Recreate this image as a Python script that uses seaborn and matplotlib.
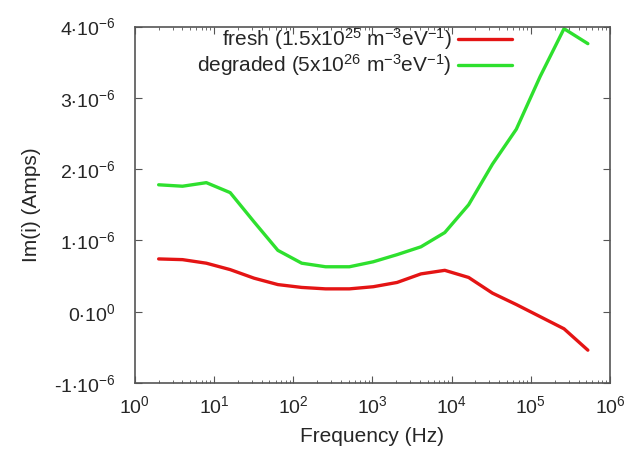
import numpy as np
import pandas as pd
import matplotlib
matplotlib.use("Agg")
import matplotlib.pyplot as plt
import seaborn as sns
from matplotlib.ticker import LogLocator, FixedLocator, FixedFormatter, NullFormatter

# data (current in units of 1e-6 A)
freq = [2, 4, 8, 16, 32, 64, 128, 256, 512, 1024, 2048, 4096, 8192,
        16384, 32768, 65536, 131072, 262144, 524288]
fresh = [0.74, 0.73, 0.68, 0.59, 0.47, 0.38, 0.34, 0.32, 0.32, 0.35, 0.41,
         0.53, 0.58, 0.48, 0.26, 0.10, -0.07, -0.24, -0.54]
degraded = [1.78, 1.76, 1.81, 1.67, 1.26, 0.86, 0.68, 0.63, 0.63, 0.70, 0.80,
            0.91, 1.11, 1.50, 2.07, 2.56, 3.30, 3.97, 3.76]
series_names = ["fresh (1.5x10$^{25}$ m$^{-3}$eV$^{-1}$)",
                "degraded (5x10$^{26}$ m$^{-3}$eV$^{-1}$)"]
ytick_vals = [-1, 0, 1, 2, 3, 4]
ytick_labels = ["-1$\\cdot$10$^{-6}$", "0$\\cdot$10$^{0}$", "1$\\cdot$10$^{-6}$",
                "2$\\cdot$10$^{-6}$", "3$\\cdot$10$^{-6}$", "4$\\cdot$10$^{-6}$"]

df = pd.DataFrame({
    "freq": freq * 2,
    "current": np.array(fresh + degraded) * 1e-6,
    "sample": [series_names[0]] * len(freq) + [series_names[1]] * len(freq),
})

sns.set_style("ticks")
plt.rcParams["font.family"] = ["Liberation Sans", "DejaVu Sans"]
plt.rcParams["mathtext.fontset"] = "custom"
plt.rcParams["mathtext.rm"] = "Liberation Sans"
plt.rcParams["mathtext.it"] = "Liberation Sans:italic"
plt.rcParams["mathtext.default"] = "regular"

fig = plt.figure(figsize=(6.27, 4.5), dpi=100)
ax = fig.add_axes([0.215, 0.149, 0.758, 0.792])

sns.lineplot(data=df, x="freq", y="current", hue="sample",
             palette=["#e41414", "#2ee02e"], linewidth=2.4, ax=ax)

ax.set_xscale("log")
ax.set_xlim(1, 1e6)
ax.set_ylim(-1e-6, 4e-6)
ax.xaxis.set_major_locator(LogLocator(base=10, numticks=10))
ax.xaxis.set_minor_locator(LogLocator(base=10, subs=np.arange(2, 10), numticks=100))
ax.xaxis.set_minor_formatter(NullFormatter())
ax.yaxis.set_major_locator(FixedLocator([v * 1e-6 for v in ytick_vals]))
ax.yaxis.set_major_formatter(FixedFormatter(ytick_labels))

ax.tick_params(which="both", direction="in", top=True, right=True,
               labelsize=14, color="#555555")
ax.tick_params(which="major", length=5)
ax.tick_params(axis="y", which="major", pad=14)
ax.tick_params(axis="x", which="major", pad=9)
ax.tick_params(which="minor", length=2.5)
for s in ax.spines.values():
    s.set_color("#555555")
    s.set_linewidth(1.2)

ax.set_xlabel("Frequency (Hz)", fontsize=15, labelpad=7)
ax.set_ylabel("Im(i) (Amps)", fontsize=15, labelpad=9)

leg = ax.legend(loc="upper right", bbox_to_anchor=(0.82, 1.035), frameon=False,
                markerfirst=False, fontsize=15, handlelength=2.6,
                handletextpad=0.3, labelspacing=0.0, borderaxespad=0.2)

fig.savefig("out.png", dpi=100)
